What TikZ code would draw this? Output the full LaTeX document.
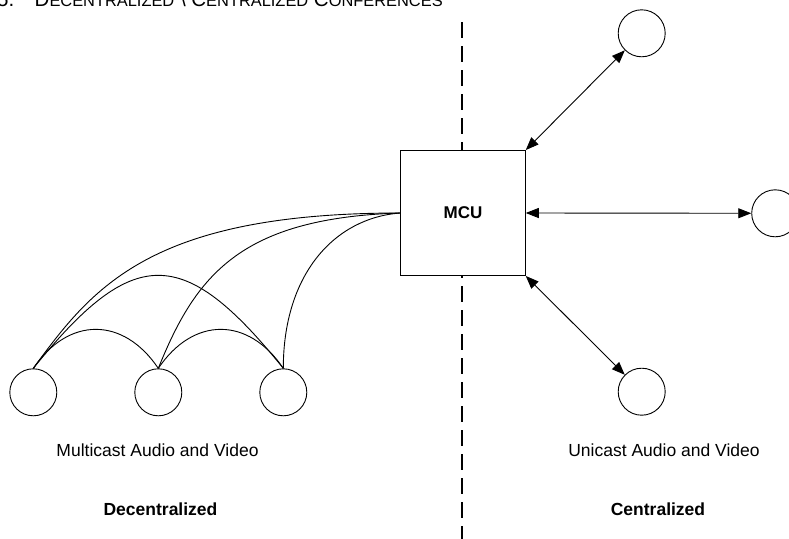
\documentclass[tikz,border=0pt]{standalone}
\usepackage{fontspec}
\setmainfont{Liberation Sans}
\usetikzlibrary{arrows.meta}
\newcommand\capsbig[1]{{\fontsize{20.5}{24}\selectfont #1}}
\newcommand\capssmall[1]{{\fontsize{16.4}{20}\selectfont #1}}
\begin{document}
\begin{tikzpicture}[x=1pt,y=-1pt,
  site/.style={circle,draw,line width=0.9pt,minimum size=47pt,inner sep=0pt},
  mcubox/.style={rectangle,draw,fill=white,line width=0.9pt,minimum width=124.6pt,minimum height=125pt,inner sep=0pt,font=\fontsize{17}{20}\selectfont\bfseries},
  link/.style={line width=0.9pt},
  duplex/.style={line width=0.9pt,{Triangle[length=13pt,width=10pt]}-{Triangle[length=13pt,width=10pt]}},
  lbl/.style={font=\fontsize{17.5}{20}\selectfont,anchor=base,inner sep=0pt},
  lblbold/.style={font=\fontsize{17.5}{20}\selectfont\bfseries,anchor=base,inner sep=0pt},
  divider/.style={line width=1.8pt,dash pattern=on 16pt off 8pt}
]
\useasboundingbox (0,0) rectangle (789,538);
% title
\node[anchor=base west,inner sep=0pt] (title) at (-3,6.5)
  {\capsbig{5.\hspace{20.4pt}D}\capssmall{ECENTRALIZED}\capsbig{\ \textbackslash\ C}\capssmall{ENTRALIZED}\capsbig{\ C}\capssmall{ONFERENCES}};
% divider
\coordinate (divtop) at (462,22);
\coordinate (divbot) at (462,540);
\draw[divider] (divtop) -- (divbot);
% MCU
\node[mcubox] (mcu) at (463,213) {MCU};
% sites
\node[site] (c1) at (33.3,392.3) {};
\node[site] (c2) at (158.3,392.3) {};
\node[site] (c3) at (283.3,392.3) {};
\node[site] (ct) at (641.7,33.3) {};
\node[site] (cr) at (775.2,213.3) {};
\node[site] (cb) at (641.7,391.7) {};
% multicast curves
\draw[link] (mcu.west) .. controls +(-250,0) and +(59,-81) .. (c1.north);
\draw[link] (mcu.west) .. controls +(-160,5) and +(37.5,-93) .. (c2.north);
\draw[link] (mcu.west) .. controls +(-66,5) and +(0,-94) .. (c3.north);
\draw[link] (c1.north) .. controls +(35,-52) and +(-35,-52) .. (c2.north);
\draw[link] (c2.north) .. controls +(35,-52) and +(-35,-52) .. (c3.north);
\draw[link] (c1.north) .. controls +(100,-124) and +(-100,-124) .. (c3.north);
% unicast arrows
\draw[duplex] (mcu.north east) -- (ct);
\draw[duplex] (mcu.east) -- (cr);
\draw[duplex] (mcu.south east) -- (cb);
% labels
\node[lbl] (mlabel) at (157.5,456) {Multicast Audio and Video};
\node[lblbold] (dlabel) at (160.5,515) {Decentralized};
\node[lbl] (ulabel) at (664,456) {Unicast Audio and Video};
\node[lblbold] (clabel) at (658,515) {Centralized};
\end{tikzpicture}
\end{document}
